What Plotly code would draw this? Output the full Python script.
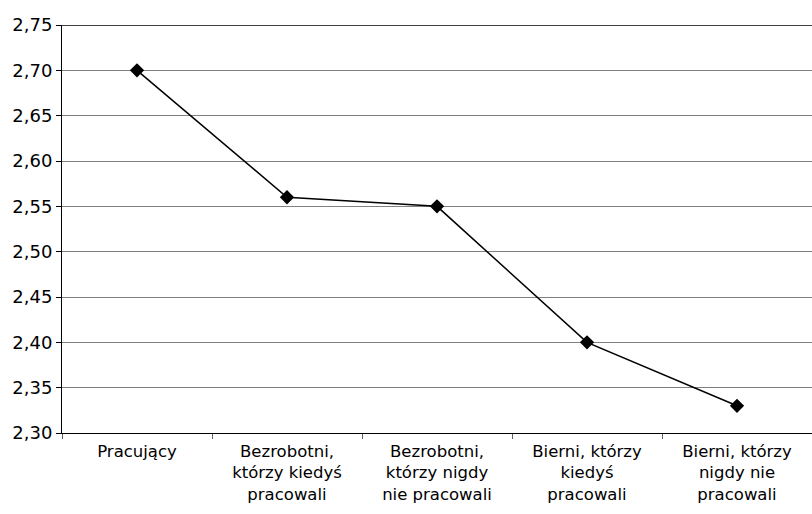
import plotly.graph_objects as go

categories = [
    "Pracujący",
    "Bezrobotni,<br>którzy kiedyś<br>pracowali",
    "Bezrobotni,<br>którzy nigdy<br>nie pracowali",
    "Bierni, którzy<br>kiedyś<br>pracowali",
    "Bierni, którzy<br>nigdy nie<br>pracowali",
]
values = [2.70, 2.56, 2.55, 2.40, 2.33]
y_ticks = [2.30, 2.35, 2.40, 2.45, 2.50, 2.55, 2.60, 2.65, 2.70, 2.75]

font_family = "DejaVu Sans"

fig = go.Figure(
    go.Scatter(
        x=categories,
        y=values,
        mode="lines+markers",
        line=dict(color="black", width=1.5),
        marker=dict(symbol="diamond", size=11, color="black"),
        showlegend=False,
    )
)

fig.update_layout(
    width=812,
    height=514,
    margin=dict(l=62, r=0, t=25, b=81),
    paper_bgcolor="white",
    plot_bgcolor="white",
    separators=", ",
    font=dict(family=font_family, size=16, color="black"),
)

fig.update_xaxes(
    type="category",
    range=[-0.5, 4.5],
    tickson="boundaries",
    ticks="outside",
    ticklen=5,
    tickcolor="#606060",
    ticklabelstandoff=3,
    showline=True,
    linecolor="black",
    linewidth=1,
    showgrid=False,
    tickfont=dict(size=16.5),
)

fig.update_yaxes(
    range=[2.30, 2.75],
    tickvals=y_ticks,
    tickformat=".2f",
    ticks="outside",
    ticklen=5,
    tickcolor="black",
    showline=True,
    linecolor="black",
    linewidth=1,
    showgrid=True,
    gridcolor="#808080",
    gridwidth=1,
    zeroline=False,
    tickfont=dict(size=18),
)

# darker top border of the plotting area
fig.add_shape(
    type="line", xref="paper", yref="y",
    x0=0, x1=1, y0=2.75, y1=2.75,
    line=dict(color="black", width=1.5),
)

fig.write_html("out.html")
